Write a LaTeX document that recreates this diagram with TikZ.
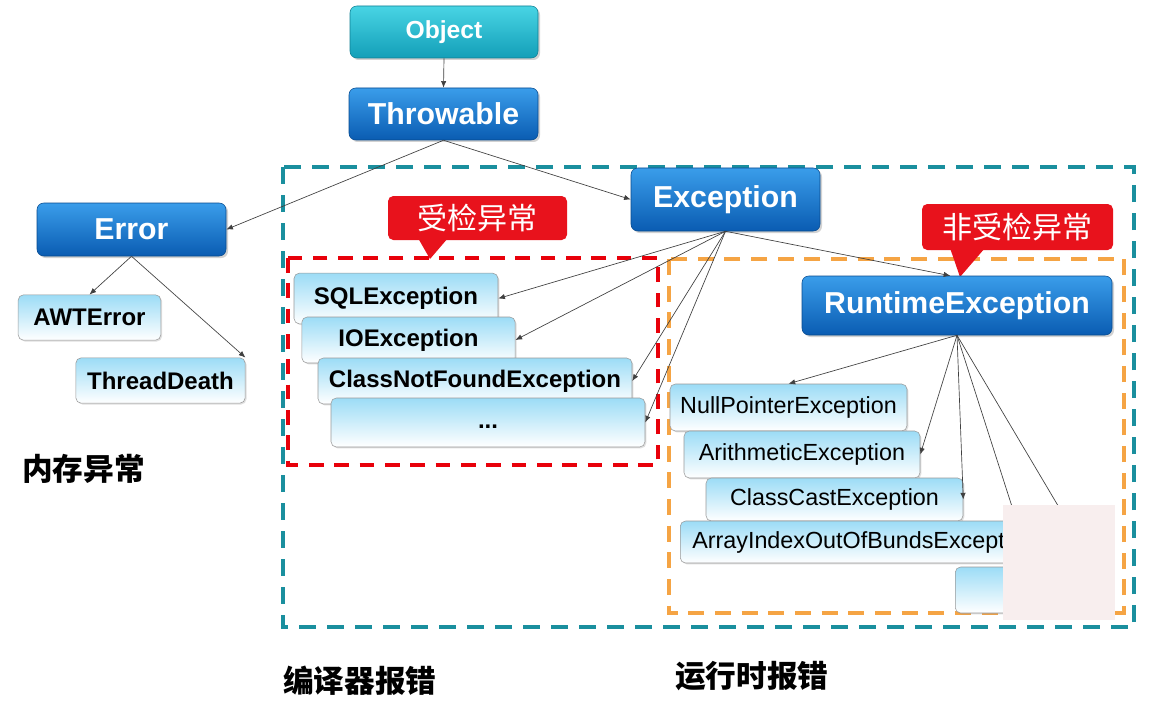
\documentclass[tikz,border=0pt]{standalone}
\usepackage{fontspec}
\setmainfont{Liberation Sans}
\newfontfamily\cjk{Noto Sans CJK SC}
\usetikzlibrary{arrows.meta,shadows,positioning}
\definecolor{tealdash}{HTML}{1A8F9E}
\definecolor{reddash}{HTML}{E8000A}
\definecolor{orangedash}{HTML}{F5A444}
\definecolor{bluetop}{HTML}{3A9DEA}
\definecolor{bluebot}{HTML}{0A5CB2}
\definecolor{cyantop}{HTML}{48D4E4}
\definecolor{cyanbot}{HTML}{139FB8}
\definecolor{lighttop}{HTML}{9CDCF6}
\definecolor{calloutred}{HTML}{E8121C}
\definecolor{pinkcover}{HTML}{F8EEEE}
\tikzset{
  x=0.75pt,y=-0.75pt,
  bluebox/.style={rounded corners=5pt,top color=bluetop,bottom color=bluebot,draw=bluebot!80!black,
     text=white,font=\bfseries\fontsize{22.7}{26}\selectfont,inner sep=0pt,
     drop shadow={opacity=0.35,shadow xshift=1.5pt,shadow yshift=-1.5pt}},
  cyanbox/.style={bluebox,top color=cyantop,bottom color=cyanbot,draw=cyanbot!80!black,
     font=\bfseries\fontsize{18.5}{21}\selectfont},
  lightbox/.style={rounded corners=4pt,top color=lighttop,bottom color=white,draw=gray!80,
     text=black,font=\bfseries\fontsize{18}{21}\selectfont,inner sep=0pt,
     drop shadow={opacity=0.25,shadow xshift=1pt,shadow yshift=-1pt}},
  lightboxr/.style={lightbox,font=\fontsize{17.5}{20}\selectfont},
  conn/.style={draw=black!75,line width=0.5pt,-{Latex[length=5pt,width=4pt]}},
  tealbox/.style={draw=tealdash,line width=2.6pt,dash pattern=on 13pt off 8pt},
  redbox/.style={draw=reddash,line width=3pt,dash pattern=on 11pt off 8pt},
  orangebox/.style={draw=orangedash,line width=2.6pt,dash pattern=on 12pt off 8pt},
  callout/.style={fill=calloutred,rounded corners=4pt,text=white,font=\cjk\fontsize{22.5}{25}\selectfont,inner sep=0pt},
  biglabel/.style={font=\cjk\bfseries\fontsize{23}{26}\selectfont,text=black,inner sep=0pt}
}
\begin{document}
\begin{tikzpicture}
\useasboundingbox (0,0) rectangle (1156,706);
\fill[white] (0,0) rectangle (1156,706);

% dashed regions
\draw[tealbox] (283,167) rectangle (1134,627);
\draw[redbox] (288,258) rectangle (658,465);
\draw[orangebox] (669,259) rectangle (1124,613);

% callouts
\fill[calloutred] (418,238) -- (430,259) -- (448,238) -- cycle;
\node[callout,minimum width=134.25pt,minimum height=33pt] (c1) at (477.5,218) {受检异常};
\fill[calloutred] (950,248) -- (960,277) -- (985,248) -- cycle;
\node[callout,minimum width=143.25pt,minimum height=34.5pt] (c2) at (1017.5,227) {非受检异常};

% main nodes
\node[cyanbox,minimum width=141pt,minimum height=39pt] (obj) at (444,32) {Object};
\node[bluebox,minimum width=141.75pt,minimum height=39pt] (thr) at (443.5,114) {Throwable};
\node[bluebox,minimum width=141.75pt,minimum height=39.75pt] (err) at (131.5,229.5) {Error};
\node[bluebox,minimum width=141.75pt,minimum height=47.25pt] (exc) at (725.5,199.5) {Exception};
\node[bluebox,minimum width=232.5pt,minimum height=44.25pt] (rte) at (957,305.5) {RuntimeException};

% error children
\node[lightbox,minimum width=107pt,minimum height=34pt] (awt) at (89.5,317.5) {AWTError};
\node[lightbox,minimum width=127pt,minimum height=34pt] (td) at (160.5,380.5) {ThreadDeath};

% checked exceptions
\node[lightbox,minimum width=153pt,minimum height=38pt] (sql) at (396,298.5) {SQLException};
\node[lightbox,minimum width=160pt,minimum height=34.5pt] (ioe) at (408.5,340) {IOException};
\node[lightbox,minimum width=235.5pt,minimum height=34.5pt] (cnf) at (475,381) {ClassNotFoundException};
\node[lightbox,minimum width=235.5pt,minimum height=36.75pt] (etc) at (488,422.5) {\raisebox{-9pt}{...}};

% runtime exceptions
\node[lightboxr,minimum width=177.75pt,minimum height=35.25pt] (npe) at (788.5,407.5) {NullPointerException};
\node[lightboxr,minimum width=177pt,minimum height=35.25pt] (ari) at (802,454.5) {ArithmeticException};
\node[lightboxr,minimum width=192.75pt,minimum height=32.25pt] (cce) at (834.5,499.5) {ClassCastException};
\node[lightboxr,minimum height=31.5pt,anchor=west,text width=315pt,align=left] (aio) at (680,542) {\hspace*{9pt}ArrayIndexOutOfBundsException};
\node[lightboxr,minimum width=108pt,minimum height=34.5pt,anchor=west] (more) at (955,590) {...};

% connectors
\draw[conn] (obj.south) -- (thr.north);
\draw[conn] (thr.south) -- (err.east);
\draw[conn] (thr.south) -- (exc.west);
\draw[conn] (err.south) -- (awt.north);
\draw[conn] (err.south) -- (td.north east);
\draw[conn] (exc.south) -- (sql.east);
\draw[conn] (exc.south) -- (ioe.east);
\draw[conn] (exc.south) -- (cnf.east);
\draw[conn] (exc.south) -- (etc.east);
\draw[conn] (exc.south) -- ([xshift=-5pt]rte.north);
\draw[conn] (rte.south) -- (npe.north);
\draw[conn] (rte.south) -- (ari.east);
\draw[conn] (rte.south) -- (cce.east);
\draw[conn] (rte.south) -- ([xshift=-63pt]aio.north east);
\draw[conn] (rte.south) -- ([xshift=-4pt]more.north east);

% cover patch
\fill[pinkcover] (1003,505) rectangle (1115,620);

% labels
\node[biglabel,anchor=west] (mem) at (22,469) {内存异常};
\node[biglabel,anchor=west] (comp) at (283,681) {编译器报错};
\node[biglabel,anchor=west] (run) at (675,676) {运行时报错};
\end{tikzpicture}
\end{document}
